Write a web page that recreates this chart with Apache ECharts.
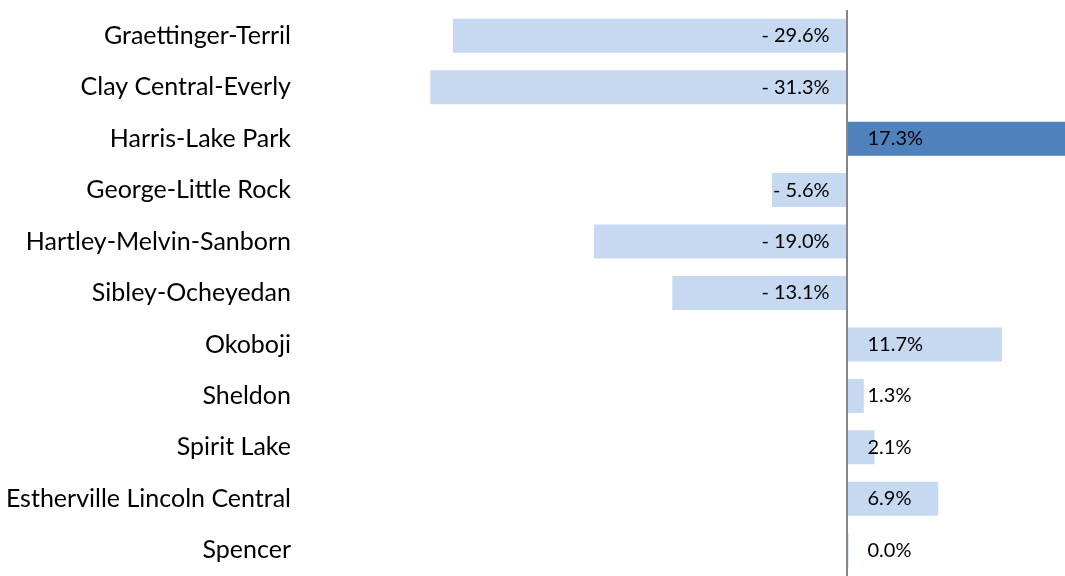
<!DOCTYPE html>
<html>
<head>
<meta charset="utf-8">
<script src="https://cdn.jsdelivr.net/npm/echarts@6/dist/echarts.min.js"></script>
<style>html,body{margin:0;padding:0;background:#fff}#c{width:1065px;height:576px}</style>
</head>
<body>
<div id="c"></div>
<script>
const categories = ["Graettinger-Terril","Clay Central-Everly","Harris-Lake Park","George-Little Rock","Hartley-Melvin-Sanborn","Sibley-Ocheyedan","Okoboji","Sheldon","Spirit Lake","Estherville Lincoln Central","Spencer"];
const values = [-29.6,-31.3,17.3,-5.6,-19.0,-13.1,11.7,1.3,2.1,6.9,0.0];
const highlight = "Harris-Lake Park";

const chart = echarts.init(document.getElementById('c'));
const FONT = 'Lato';
chart.setOption({
  animation:false,
  grid:{left:421,right:0,top:10,height:572,containLabel:false},
  xAxis:{type:'value',min:-32,max:16.43,show:false},
  yAxis:{type:'category',data:categories,inverse:true,
    axisLine:{show:false},axisTick:{show:false},splitLine:{show:false},
    axisLabel:{margin:130,fontFamily:FONT,fontSize:25,color:'#000'}},
  series:[{
    type:'bar',barWidth:34,barMinHeight:2,clip:true,
    data:values.map((v,i)=>({value:v,
      itemStyle:{color:categories[i]===highlight?'#4F81BD':'#C6D9F1'},
      label:v<0?{position:'insideRight',distance:17}:{position:'insideLeft',distance:21}})),
    label:{show:true,fontFamily:FONT,fontSize:20,color:'#000',
      formatter:p=>p.value<0?'- '+Math.abs(p.value).toFixed(1)+'%':p.value.toFixed(1)+'%'},
    markLine:{silent:true,symbol:'none',label:{show:false},
      lineStyle:{color:'#868686',width:2,type:'solid'},
      data:[{xAxis:0}]}
  }]
});
</script>
</body>
</html>
